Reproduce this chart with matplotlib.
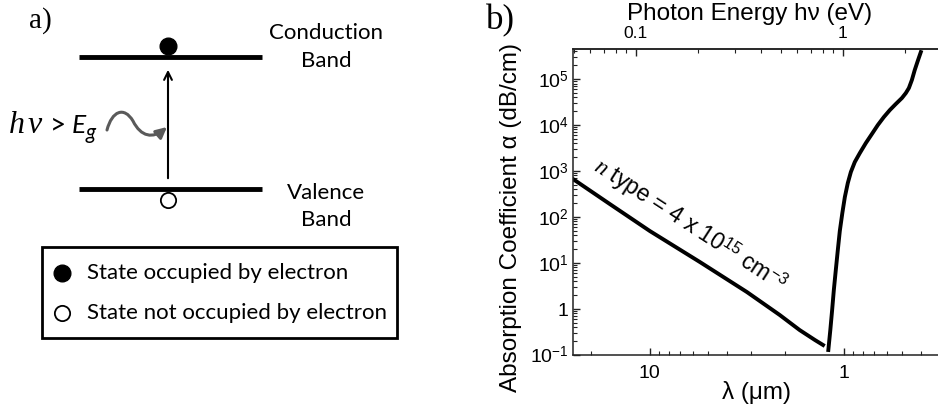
import numpy as np
import matplotlib
matplotlib.use("Agg")
import matplotlib.pyplot as plt
from matplotlib.path import Path
from matplotlib.patches import FancyArrowPatch, Rectangle
from matplotlib.ticker import FuncFormatter, NullFormatter, LogLocator

plt.rcParams['font.family'] = ['Liberation Sans', 'DejaVu Sans']
plt.rcParams['mathtext.fontset'] = 'custom'
plt.rcParams['mathtext.rm'] = 'Liberation Sans'
plt.rcParams['mathtext.it'] = 'Liberation Serif:italic'
plt.rcParams['mathtext.bf'] = 'Liberation Sans:bold'

# free-carrier absorption, n type 4e15 cm^-3
fc_wavelength = [24.9, 16.1, 10.0, 5.52, 3.16, 2.14, 1.69, 1.41, 1.28]
fc_alpha = [670, 192, 49.6, 10.5, 2.34, 0.741, 0.349, 0.212, 0.165]

# band-edge absorption
edge_wavelength = [1.202, 1.174, 1.149, 1.126, 1.100, 1.074, 1.049, 1.018, 0.988,
                   0.954, 0.920, 0.878, 0.827, 0.770, 0.717, 0.668, 0.622, 0.579,
                   0.540, 0.502, 0.479, 0.462, 0.446, 0.431, 0.416, 0.401]
edge_alpha = [0.1285, 0.349, 0.951, 2.59, 7.05, 19.2, 49.6, 122, 272,
              548, 951, 1570, 2460, 4060, 6370, 10000, 14900, 21200,
              28600, 38600, 49600, 63700, 95000, 157000, 246000, 386000]

lambda_limits = (24.9, 0.327)
energy_limits = (0.0497, 2.88)
alpha_limits = (0.1, 4.5e5)

fig = plt.figure(figsize=(9.38, 4.13), dpi=100)

# ---- a) band diagram, drawn in pixel-like units ----
axa = fig.add_axes([0, 0, 422 / 938, 1])
axa.set_xlim(0, 422)
axa.set_ylim(413, 0)
axa.axis('off')

label_font = 'Lato'
axa.text(40, 21, 'a)', family='Liberation Serif', fontsize=21, ha='center', va='center')

axa.plot([79, 262], [57, 57], color='black', lw=3.5, solid_capstyle='butt')
axa.plot([79, 262], [189, 189], color='black', lw=3.5, solid_capstyle='butt')
axa.plot(168, 46, 'o', ms=12, color='black')
axa.plot(168, 200, 'o', ms=11, mfc='white', mec='black', mew=1.3)
axa.annotate('', xy=(168, 67), xytext=(168, 181),
             arrowprops=dict(arrowstyle='->', lw=1.5, color='black', mutation_scale=14))

axa.text(326, 33, 'Conduction', family=label_font, fontsize=16, ha='center', va='center')
axa.text(326, 61, 'Band', family=label_font, fontsize=16, ha='center', va='center')
axa.text(326, 193, 'Valence', family=label_font, fontsize=16, ha='center', va='center')
axa.text(326, 220, 'Band', family=label_font, fontsize=16, ha='center', va='center')

axa.text(9, 133, 'h', family='Liberation Serif', style='italic', fontsize=23, va='baseline')
axa.text(28, 133, 'ν', family='Liberation Serif', style='italic', fontsize=23, va='baseline')
axa.text(50, 133, '>', family=label_font, fontsize=20, va='baseline')
axa.text(72, 133, 'E', family=label_font, style='italic', fontsize=19, va='baseline')
axa.text(86, 139, 'g', family=label_font, style='italic', fontsize=15, va='baseline')

wave = Path([(107, 130), (112, 111), (124, 106), (133, 121), (141, 137), (153, 139), (167, 127)],
            [Path.MOVETO, Path.CURVE4, Path.CURVE4, Path.CURVE4, Path.CURVE4, Path.CURVE4, Path.CURVE4])
axa.add_patch(FancyArrowPatch(path=wave, arrowstyle='-|>', mutation_scale=16,
                              lw=2.2, color='#5a5a5a'))

axa.add_patch(Rectangle((42, 247), 355, 91, fill=False, lw=2, ec='black'))
axa.plot(62, 273, 'o', ms=12, color='black')
axa.plot(62, 313, 'o', ms=11, mfc='white', mec='black', mew=1.3)
axa.text(87, 273, 'State occupied by electron', family=label_font, fontsize=16, va='center')
axa.text(87, 313, 'State not occupied by electron', family=label_font, fontsize=16, va='center')

# ---- b) absorption spectrum ----
ax = fig.add_axes([573 / 938, 1 - 355 / 413, 1 - 573 / 938, 306 / 413])
ax.plot(fc_wavelength, fc_alpha, color='black', lw=2.8, solid_joinstyle='round')
ax.plot(edge_wavelength, edge_alpha, color='black', lw=2.8, solid_joinstyle='round')
ax.set_xscale('log')
ax.set_yscale('log')
ax.set_xlim(*lambda_limits)
ax.set_ylim(*alpha_limits)

def alpha_fmt(v, pos):
    if abs(v - 1) < 1e-9:
        return '1'
    return r'$10^{%d}$' % round(np.log10(v))

ax.yaxis.set_major_locator(LogLocator(base=10, numticks=20))
ax.yaxis.set_major_formatter(FuncFormatter(alpha_fmt))
ax.yaxis.set_minor_formatter(NullFormatter())
ax.xaxis.set_major_formatter(FuncFormatter(lambda v, p: '%g' % v))
ax.xaxis.set_minor_formatter(NullFormatter())

for spine in ax.spines.values():
    spine.set_linewidth(1.1)
    spine.set_color('#222222')
ax.spines['right'].set_visible(False)
ax.tick_params(which='both', direction='in', labelsize=14, colors='#222222',
               labelcolor='black', right=False, top=False)
ax.tick_params(which='major', length=5, width=1)
ax.tick_params(which='minor', length=3, width=0.8)
ax.tick_params(axis='x', pad=7)
ax.tick_params(axis='y', pad=3)

ax2 = ax.twiny()
ax2.set_xscale('log')
ax2.set_xlim(*energy_limits)
ax2.xaxis.set_major_formatter(FuncFormatter(lambda v, p: '%g' % v))
ax2.xaxis.set_minor_formatter(NullFormatter())
for name, spine in ax2.spines.items():
    spine.set_visible(name == 'top')
    spine.set_linewidth(1.1)
    spine.set_color('#222222')
ax2.tick_params(which='both', direction='in', labelsize=12.5, colors='#222222', labelcolor='black')
ax2.tick_params(which='major', length=5, width=1, pad=6)
ax2.tick_params(which='minor', length=3, width=0.8)

ax.set_ylabel('Absorption Coefficient α (dB/cm)', fontsize=17.5)
ax.yaxis.set_label_coords(-0.14, 0.45)
ax.set_xlabel('λ (μm)', fontsize=17.5)
ax.xaxis.set_label_coords(0.504, -0.085)
ax2.set_xlabel('Photon Energy hν (eV)', fontsize=17.5)
ax2.xaxis.set_label_coords(0.485, 1.095)

ax.text(0.32, 0.425, r'$n$ type = 4 x 10$^{15}$ cm$^{-3}$', transform=ax.transAxes,
        fontsize=16.5, rotation=-33, rotation_mode='anchor', ha='center', va='center')

fig.text(500 / 938, 1 - 21 / 413, 'b)', family='Liberation Serif', fontsize=25,
         ha='center', va='center')

fig.savefig('out.png', dpi=100)
